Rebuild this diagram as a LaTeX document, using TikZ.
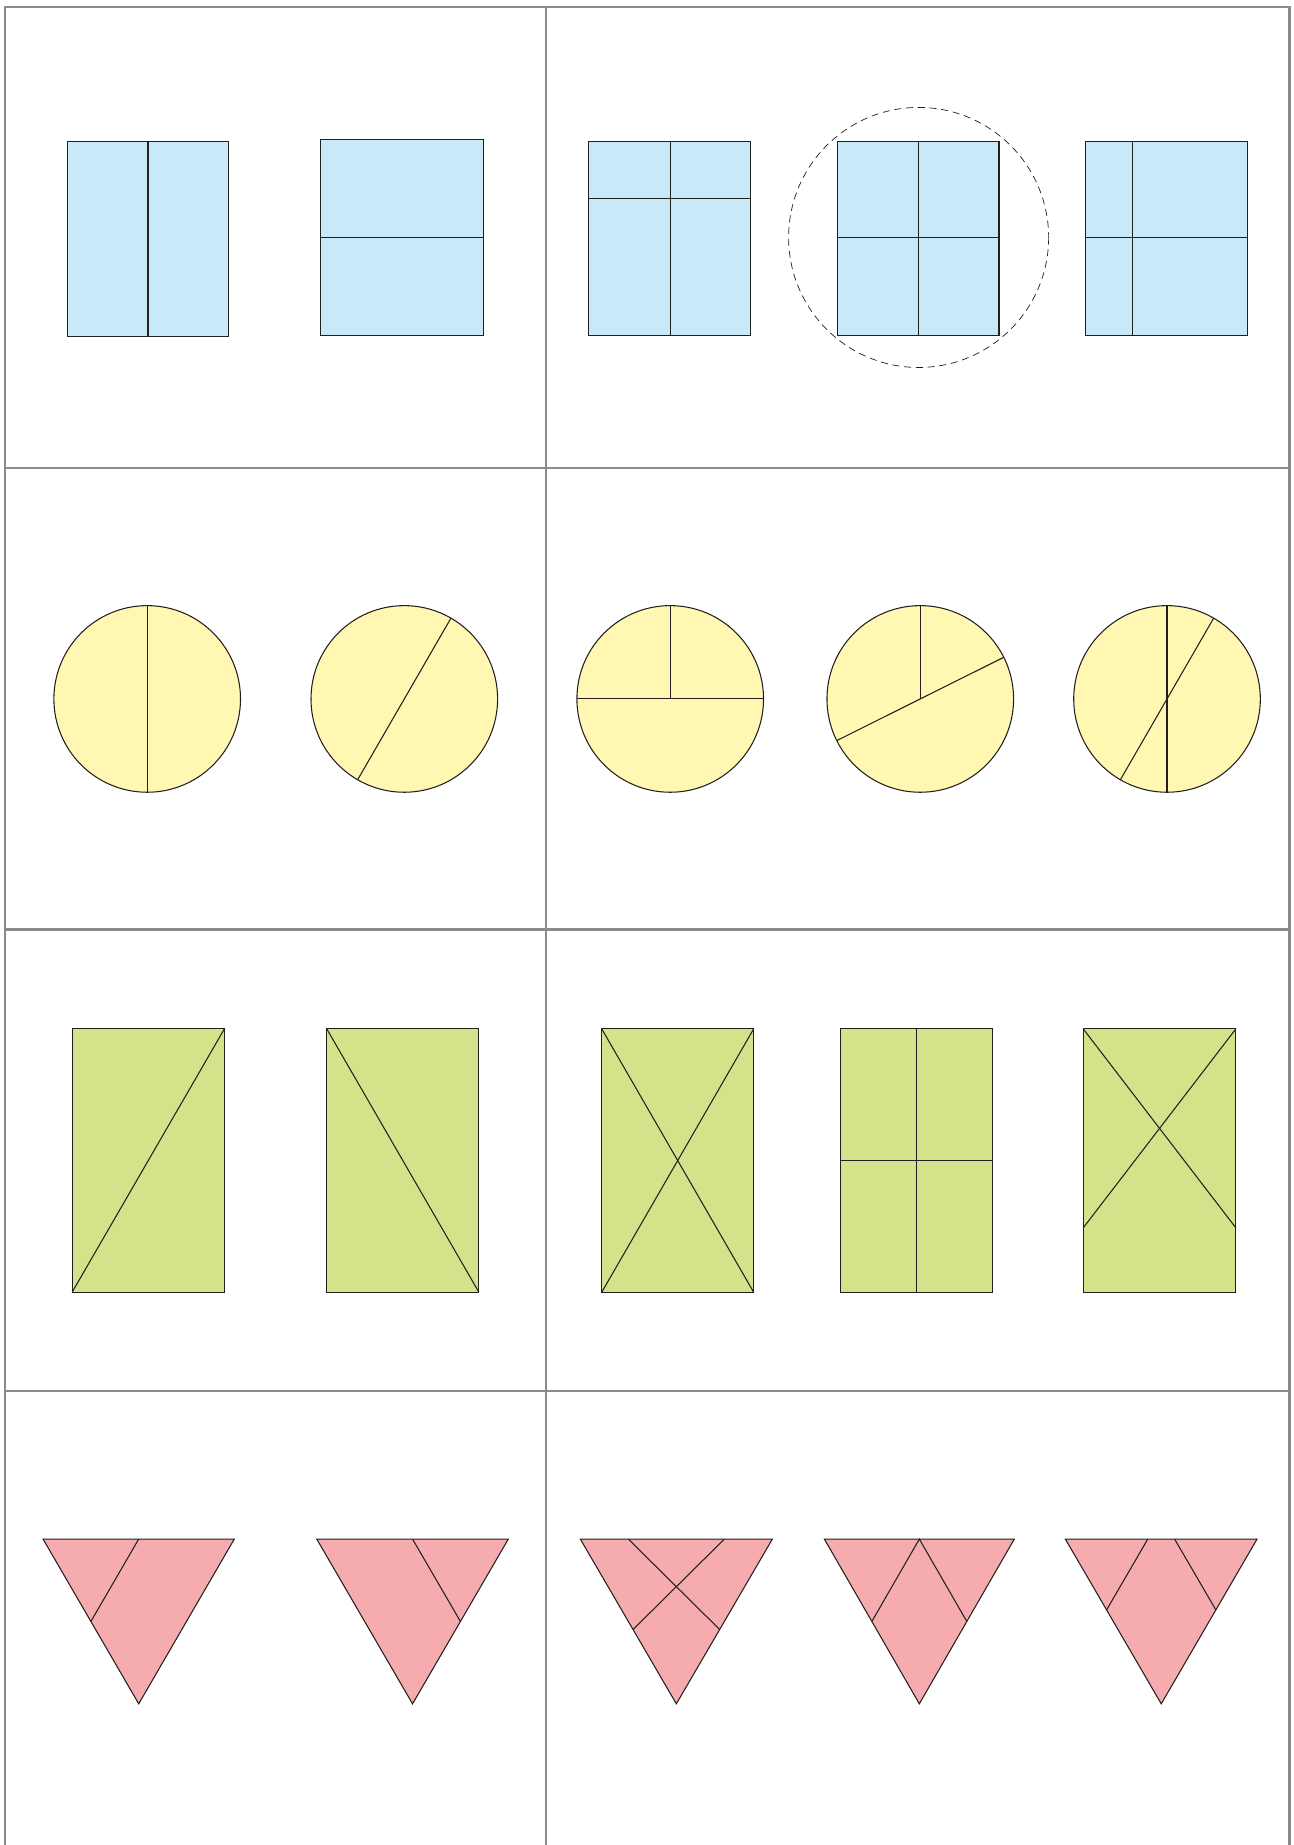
\documentclass[tikz,border=0pt]{standalone}
\usetikzlibrary{calc}

\definecolor{gridgray}{RGB}{138,138,140}
\definecolor{inkline}{RGB}{35,31,32}
\definecolor{paleblue}{RGB}{199,233,248}
\definecolor{paleyellow}{RGB}{255,247,178}
\definecolor{palegreen}{RGB}{212,227,138}
\definecolor{palepink}{RGB}{246,172,175}

\begin{document}
\begin{tikzpicture}[
        x=1pt,
        y=-1pt,
        gridline/.style={
            draw=gridgray,
            line width=2pt
        },
        piece/.style={
            draw=inkline,
            line width=0.9pt
        },
        blueshape/.style={
            piece,
            fill=paleblue
        },
        yellowshape/.style={
            piece,
            fill=paleyellow
        },
        greenshape/.style={
            piece,
            fill=palegreen
        },
        pinkshape/.style={
            piece,
            fill=palepink,
            line join=miter
        },
        cut/.style={
            draw=inkline,
            line width=0.9pt
        },
        guide/.style={
            draw=inkline,
            line width=0.6pt,
            dash pattern=on 6pt off 4pt
        }
    ]

        \useasboundingbox (0,0) rectangle (1099,1568);

        % ---------------------------------------------------------------------
        % Frame and cells
        % ---------------------------------------------------------------------

        \draw[gridline] (4,1568) -- (4,6) -- (1096,6) -- (1096,1568);
        \draw[gridline] (464,6) -- (464,1568);
        \foreach \rowy in {398,790,1182}
            \draw[gridline] (4,\rowy) -- (1096,\rowy);

        % ---------------------------------------------------------------------
        % Row 1: rectangles
        % ---------------------------------------------------------------------

        \draw[blueshape] (57.4,120.1) rectangle (194.5,285.9);
        \draw[cut] (125.8,120.1) -- (125.8,285.9);

        \draw[blueshape] (272,118.4) rectangle (410.9,285.3);
        \draw[cut] (272,202) -- (410.9,202);

        \draw[blueshape] (500,119.9) rectangle (637.8,284.8);
        \draw[cut] (569.5,119.9) -- (569.5,284.8);
        \draw[cut] (500,168.3) -- (637.8,168.3);

        \draw[guide] (780.7,201.8) circle[radius=110.5];
        \draw[blueshape] (712,119.9) rectangle (849,284.8);
        \draw[cut] (780.5,119.9) -- (780.5,284.8);
        \draw[cut] (712,201.7) -- (849,201.7);

        \draw[blueshape] (922.5,119.9) rectangle (1060,284.8);
        \draw[cut] (962.5,119.9) -- (962.5,284.8);
        \draw[cut] (922.5,201.7) -- (1060,201.7);

        % ---------------------------------------------------------------------
        % Row 2: circles
        % ---------------------------------------------------------------------

        \coordinate (disc1) at (125.1,594);
        \coordinate (disc2) at (343.6,594);
        \coordinate (disc3) at (569.6,594);
        \coordinate (disc4) at (782.1,594);
        \coordinate (disc5) at (991.8,594);

        \draw[yellowshape] (disc1) circle[radius=79.3];
        \draw[cut] ($(disc1)+(0,-79.3)$) -- ($(disc1)+(0,79.3)$);

        \draw[yellowshape] (disc2) circle[radius=79.3];
        \draw[cut] ($(disc2)+(-60:79.3)$) -- ($(disc2)+(120:79.3)$);

        \draw[yellowshape] (disc3) circle[radius=79.3];
        \draw[cut] ($(disc3)+(-79.3,0)$) -- ($(disc3)+(79.3,0)$);
        \draw[cut] ($(disc3)+(0,-79.3)$) -- (disc3);

        \draw[yellowshape] (disc4) circle[radius=79.3];
        \draw[cut] ($(disc4)+(-26.5:79.3)$) -- ($(disc4)+(153.5:79.3)$);
        \draw[cut] ($(disc4)+(0,-79.3)$) -- (disc4);

        \draw[yellowshape] (disc5) circle[radius=79.3];
        \draw[cut] ($(disc5)+(0,-79.3)$) -- ($(disc5)+(0,79.3)$);
        \draw[cut] ($(disc5)+(-60:79.3)$) -- ($(disc5)+(120:79.3)$);

        % ---------------------------------------------------------------------
        % Row 3: tall rectangles
        % ---------------------------------------------------------------------

        \draw[greenshape] (61.3,874.4) rectangle (190.7,1098.2);
        \draw[cut] (61.3,1098.2) -- (190.7,874.4);

        \draw[greenshape] (277.7,874.4) rectangle (407,1098.2);
        \draw[cut] (277.7,874.4) -- (407,1098.2);

        \draw[greenshape] (511.4,874.4) rectangle (640.5,1098.2);
        \draw[cut] (511.4,874.4) -- (640.5,1098.2);
        \draw[cut] (511.4,1098.2) -- (640.5,874.4);

        \draw[greenshape] (714.2,874.4) rectangle (843.6,1098.2);
        \draw[cut] (778.9,874.4) -- (778.9,1098.2);
        \draw[cut] (714.2,986.3) -- (843.6,986.3);

        \draw[greenshape] (920.6,874.4) rectangle (1050.3,1098.2);
        \draw[cut] (920.6,874.4) -- (1050.3,1043.5);
        \draw[cut] (1050.3,874.4) -- (920.6,1043.5);

        % ---------------------------------------------------------------------
        % Row 4: triangles
        % ---------------------------------------------------------------------

        \coordinate (tri1a) at (36.6,1308);
        \coordinate (tri1b) at (199.1,1308);
        \coordinate (tri1c) at (117.9,1448);
        \draw[pinkshape] (tri1a) -- (tri1b) -- (tri1c) -- cycle;
        \draw[cut] ($(tri1a)!0.5!(tri1b)$) -- ($(tri1a)!0.5!(tri1c)$);

        \coordinate (tri2a) at (269.2,1308);
        \coordinate (tri2b) at (432,1308);
        \coordinate (tri2c) at (350.6,1448);
        \draw[pinkshape] (tri2a) -- (tri2b) -- (tri2c) -- cycle;
        \draw[cut] ($(tri2a)!0.5!(tri2b)$) -- ($(tri2b)!0.5!(tri2c)$);

        \coordinate (tri3a) at (493.2,1308);
        \coordinate (tri3b) at (656.4,1308);
        \coordinate (tri3c) at (574.8,1448);
        \draw[pinkshape] (tri3a) -- (tri3b) -- (tri3c) -- cycle;
        \draw[cut] ($(tri3a)!0.25!(tri3b)$) -- ($(tri3b)!0.549!(tri3c)$);
        \draw[cut] ($(tri3a)!0.75!(tri3b)$) -- ($(tri3a)!0.549!(tri3c)$);

        \coordinate (tri4a) at (700.6,1308);
        \coordinate (tri4b) at (862,1308);
        \coordinate (tri4c) at (781.3,1448);
        \draw[pinkshape] (tri4a) -- (tri4b) -- (tri4c) -- cycle;
        \draw[cut] ($(tri4a)!0.5!(tri4c)$) -- ($(tri4a)!0.5!(tri4b)$)
            -- ($(tri4b)!0.5!(tri4c)$);

        \coordinate (tri5a) at (905.4,1308);
        \coordinate (tri5b) at (1068.3,1308);
        \coordinate (tri5c) at (986.9,1448);
        \draw[pinkshape] (tri5a) -- (tri5b) -- (tri5c) -- cycle;
        \draw[cut] ($(tri5a)!0.43!(tri5b)$) -- ($(tri5a)!0.43!(tri5c)$);
        \draw[cut] ($(tri5b)!0.43!(tri5a)$) -- ($(tri5b)!0.43!(tri5c)$);

    \end{tikzpicture}
\end{document}
